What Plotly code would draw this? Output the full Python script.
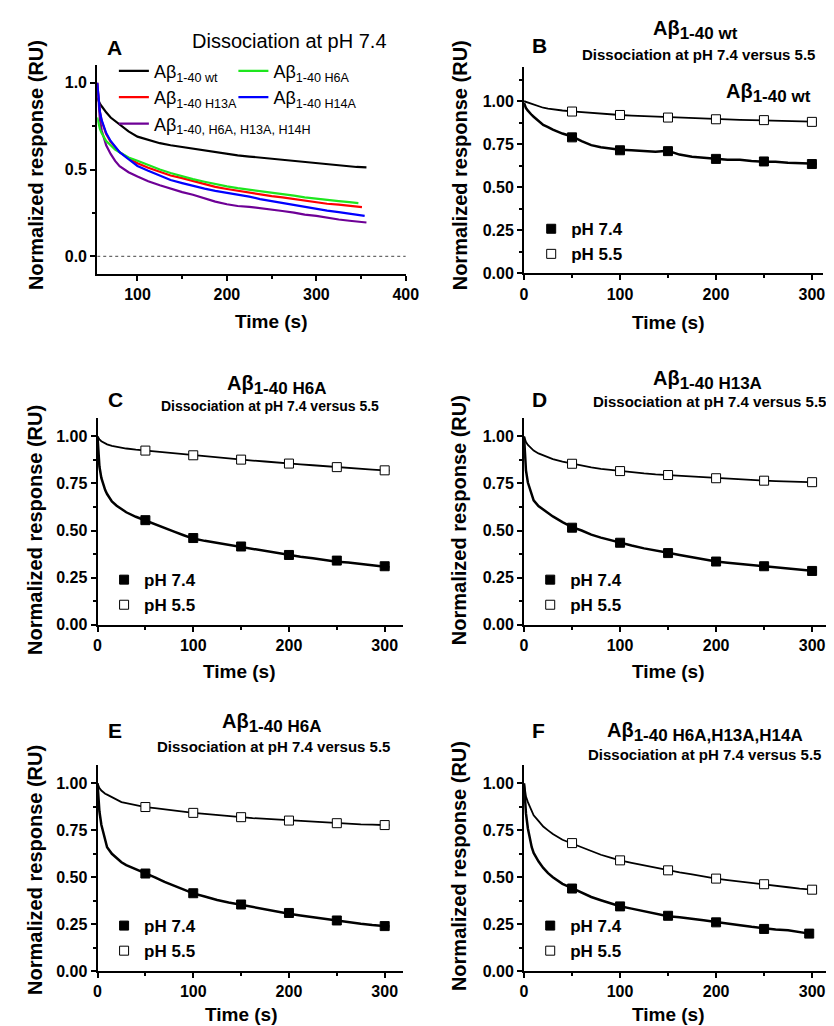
import plotly.graph_objects as go

# ---------------- data ----------------
# Panel A: dissociation at pH 7.4, all peptides
time_a = [55, 56, 57, 58, 60, 62, 65, 70, 75, 80, 90, 100, 112, 125, 137, 150, 162,
          175, 187, 200, 212, 225, 237, 250, 262, 275, 287, 300, 312, 325, 337, 345]
a_wt = [0.915, 0.90, 0.89, 0.88, 0.865, 0.85, 0.83, 0.80, 0.78, 0.763, 0.72, 0.69, 0.67,
        0.652, 0.64, 0.63, 0.618, 0.608, 0.598, 0.589, 0.582, 0.575, 0.569, 0.564, 0.558,
        0.551, 0.543, 0.536, 0.53, 0.523, 0.518, 0.515]
a_h6a = [0.80, 0.77, 0.75, 0.735, 0.71, 0.69, 0.665, 0.64, 0.615, 0.60, 0.57, 0.551, 0.525,
         0.50, 0.48, 0.46, 0.445, 0.43, 0.415, 0.403, 0.393, 0.385, 0.375, 0.366, 0.358,
         0.35, 0.34, 0.331, 0.325, 0.318, 0.312, 0.309]
a_h13a = [1.0, 0.93, 0.87, 0.83, 0.78, 0.745, 0.705, 0.66, 0.63, 0.60, 0.565, 0.536, 0.51,
          0.485, 0.466, 0.451, 0.434, 0.416, 0.40, 0.388, 0.378, 0.368, 0.356, 0.347, 0.34,
          0.33, 0.32, 0.309, 0.303, 0.298, 0.29, 0.286]
a_h14a = [1.0, 0.93, 0.875, 0.835, 0.785, 0.75, 0.71, 0.665, 0.632, 0.60, 0.56, 0.521, 0.493,
          0.465, 0.44, 0.422, 0.405, 0.39, 0.377, 0.366, 0.355, 0.344, 0.33, 0.318, 0.308,
          0.298, 0.285, 0.271, 0.263, 0.255, 0.245, 0.24]
a_triple = [1.0, 0.91, 0.84, 0.79, 0.725, 0.685, 0.64, 0.59, 0.55, 0.52, 0.485, 0.46, 0.433,
            0.41, 0.39, 0.37, 0.355, 0.335, 0.315, 0.30, 0.29, 0.285, 0.276, 0.268, 0.261,
            0.252, 0.24, 0.233, 0.222, 0.212, 0.205, 0.20]
a_end_time = {'wt': 356, 'h6a': 347, 'h13a': 351, 'h14a': 354, 'triple': 356}
a_end_value = {'wt': 0.513, 'h6a': 0.307, 'h13a': 0.284, 'h14a': 0.233, 'triple': 0.195}

# Panels B-F: pH 7.4 versus pH 5.5
time_bf = [0, 1, 2, 4, 6, 8, 10, 15, 20, 25, 30, 40, 50, 60, 70, 80, 90, 100, 112, 125,
           137, 150, 162, 175, 187, 200, 212, 225, 237, 250, 262, 275, 287, 300, 305]
b_74 = [0.99, 0.975, 0.96, 0.945, 0.93, 0.92, 0.91, 0.885, 0.862, 0.85, 0.835, 0.812, 0.795,
        0.768, 0.745, 0.732, 0.725, 0.718, 0.715, 0.712, 0.706, 0.712, 0.69, 0.678, 0.672,
        0.665, 0.66, 0.66, 0.652, 0.648, 0.648, 0.643, 0.64, 0.637, 0.636]
b_55 = [1.0, 0.998, 0.995, 0.99, 0.986, 0.982, 0.978, 0.97, 0.962, 0.957, 0.952, 0.946,
        0.941, 0.936, 0.931, 0.927, 0.923, 0.92, 0.916, 0.913, 0.91, 0.906, 0.903, 0.90,
        0.898, 0.896, 0.894, 0.892, 0.89, 0.889, 0.887, 0.885, 0.883, 0.881, 0.88]
c_74 = [1.0, 0.90, 0.84, 0.78, 0.745, 0.715, 0.694, 0.655, 0.632, 0.612, 0.597, 0.573, 0.553,
        0.533, 0.51, 0.494, 0.475, 0.457, 0.445, 0.434, 0.424, 0.413, 0.403, 0.392, 0.38,
        0.37, 0.36, 0.352, 0.343, 0.334, 0.33, 0.322, 0.313, 0.308, 0.305]
c_55 = [1.0, 0.99, 0.985, 0.975, 0.968, 0.962, 0.958, 0.95, 0.944, 0.94, 0.936, 0.93, 0.925,
        0.92, 0.915, 0.91, 0.905, 0.90, 0.895, 0.89, 0.884, 0.877, 0.872, 0.867, 0.861,
        0.856, 0.852, 0.847, 0.842, 0.837, 0.833, 0.829, 0.824, 0.82, 0.818]
d_74 = [1.0, 0.88, 0.82, 0.755, 0.72, 0.69, 0.66, 0.63, 0.61, 0.592, 0.575, 0.545, 0.518,
        0.50, 0.478, 0.462, 0.448, 0.436, 0.42, 0.405, 0.395, 0.382, 0.37, 0.357, 0.347,
        0.335, 0.328, 0.322, 0.315, 0.308, 0.303, 0.298, 0.292, 0.285, 0.283]
d_55 = [1.0, 0.98, 0.97, 0.955, 0.945, 0.935, 0.925, 0.91, 0.90, 0.89, 0.88, 0.866, 0.855,
        0.845, 0.836, 0.828, 0.822, 0.816, 0.81, 0.804, 0.799, 0.795, 0.79, 0.786, 0.782,
        0.778, 0.775, 0.771, 0.768, 0.765, 0.763, 0.76, 0.758, 0.757, 0.756]
e_74 = [1.0, 0.90, 0.85, 0.78, 0.74, 0.695, 0.66, 0.625, 0.60, 0.58, 0.565, 0.543, 0.524,
        0.50, 0.475, 0.455, 0.433, 0.414, 0.398, 0.379, 0.366, 0.353, 0.34, 0.327, 0.316,
        0.306, 0.297, 0.288, 0.277, 0.267, 0.26, 0.253, 0.246, 0.24, 0.238]
e_55 = [1.0, 0.985, 0.975, 0.962, 0.952, 0.945, 0.94, 0.926, 0.912, 0.90, 0.895, 0.884, 0.874,
        0.868, 0.861, 0.854, 0.848, 0.843, 0.838, 0.831, 0.825, 0.82, 0.815, 0.811, 0.806,
        0.802, 0.798, 0.795, 0.791, 0.788, 0.785, 0.782, 0.78, 0.778, 0.777]
time_f74 = [0, 1, 2, 4, 6, 8, 10, 15, 20, 25, 30, 40, 50, 60, 70, 80, 90, 100, 112, 125,
            137, 150, 162, 175, 187, 200, 212, 225, 237, 250, 262, 275, 287, 297]
f_74 = [1.0, 0.90, 0.84, 0.76, 0.70, 0.66, 0.63, 0.585, 0.55, 0.522, 0.50, 0.465, 0.442,
        0.42, 0.395, 0.378, 0.36, 0.346, 0.333, 0.32, 0.306, 0.293, 0.287, 0.28, 0.271,
        0.262, 0.255, 0.245, 0.236, 0.227, 0.222, 0.218, 0.208, 0.20]
time_f55 = time_f74[:-1] + [300]
f_55 = [1.0, 0.96, 0.93, 0.90, 0.875, 0.85, 0.83, 0.80, 0.77, 0.75, 0.73, 0.70, 0.682, 0.66,
        0.64, 0.62, 0.605, 0.59, 0.577, 0.563, 0.55, 0.537, 0.526, 0.515, 0.503, 0.493,
        0.485, 0.478, 0.47, 0.463, 0.455, 0.447, 0.44, 0.434]

# symbols every 50 s
mark_t = [50, 100, 150, 200, 250, 300]
mark_t_f74 = [50, 100, 150, 200, 250, 297]
mark_b74 = [0.79, 0.715, 0.71, 0.665, 0.65, 0.635]
mark_b55 = [0.94, 0.92, 0.905, 0.895, 0.89, 0.88]
mark_c74 = [0.555, 0.46, 0.415, 0.37, 0.34, 0.31]
mark_c55 = [0.925, 0.90, 0.877, 0.856, 0.837, 0.82]
mark_d74 = [0.515, 0.435, 0.38, 0.335, 0.31, 0.285]
mark_d55 = [0.855, 0.816, 0.795, 0.778, 0.765, 0.757]
mark_e74 = [0.52, 0.415, 0.355, 0.31, 0.27, 0.24]
mark_e55 = [0.874, 0.843, 0.82, 0.802, 0.788, 0.778]
mark_f74 = [0.44, 0.345, 0.295, 0.26, 0.225, 0.20]
mark_f55 = [0.682, 0.59, 0.537, 0.493, 0.463, 0.434]

a_names = {'wt': 'Aβ<sub>1-40 wt</sub>', 'h6a': 'Aβ<sub>1-40 H6A</sub>',
           'h13a': 'Aβ<sub>1-40 H13A</sub>', 'h14a': 'Aβ<sub>1-40 H14A</sub>',
           'triple': 'Aβ<sub>1-40, H6A, H13A, H14H</sub>'}
a_colors = {'wt': 'black', 'h6a': 'rgb(30,230,30)', 'h13a': 'rgb(255,0,0)',
            'h14a': 'rgb(0,0,255)', 'triple': 'rgb(110,0,150)'}
a_series = {'wt': a_wt, 'h6a': a_h6a, 'h13a': a_h13a, 'h14a': a_h14a, 'triple': a_triple}

W, H = 834, 1026
FONT = 'Liberation Sans, Arial, sans-serif'

def px(x):
    return x / W

def py(y):
    return 1 - y / H

fig = go.Figure()

#%% Panel A
fig.add_shape(type='line', xref='x', yref='y', x0=55, x1=400, y0=0, y1=0,
              line=dict(color='#444', width=1, dash='dot'))
legend_of = {'wt': 'legend', 'h13a': 'legend', 'triple': 'legend',
             'h6a': 'legend7', 'h14a': 'legend7'}
for key in ['wt', 'h13a', 'triple', 'h6a', 'h14a']:
    fig.add_trace(go.Scatter(
        x=time_a + [a_end_time[key]], y=a_series[key] + [a_end_value[key]],
        mode='lines', line=dict(color=a_colors[key], width=2.2),
        name=a_names[key], legend=legend_of[key], legendgroup=key,
        xaxis='x', yaxis='y'))

#%% Panels B-F
panels = [
    ('x2', 'y2', 'legend2', time_bf, b_74, time_bf, b_55, mark_t, mark_b74, mark_b55),
    ('x3', 'y3', 'legend3', time_bf, c_74, time_bf, c_55, mark_t, mark_c74, mark_c55),
    ('x4', 'y4', 'legend4', time_bf, d_74, time_bf, d_55, mark_t, mark_d74, mark_d55),
    ('x5', 'y5', 'legend5', time_bf, e_74, time_bf, e_55, mark_t, mark_e74, mark_e55),
    ('x6', 'y6', 'legend6', time_f74, f_74, time_f55, f_55, mark_t_f74, mark_f74, mark_f55),
]
for xa, ya, lg, t74, v74, t55, v55, mt74, m74, m55 in panels:
    fig.add_trace(go.Scatter(x=t55, y=v55, mode='lines', line=dict(color='black', width=1.8),
                             showlegend=False, xaxis=xa, yaxis=ya))
    fig.add_trace(go.Scatter(x=t74, y=v74, mode='lines', line=dict(color='black', width=2.5),
                             showlegend=False, xaxis=xa, yaxis=ya))
    fig.add_trace(go.Scatter(x=mt74, y=m74, mode='markers', name='pH 7.4', legend=lg,
                             marker=dict(symbol='square', size=9, color='black',
                                         line=dict(color='black', width=1)),
                             xaxis=xa, yaxis=ya, legendgroup='a' + lg))
    fig.add_trace(go.Scatter(x=mark_t, y=m55, mode='markers', name='pH 5.5', legend=lg,
                             marker=dict(symbol='square', size=9, color='white',
                                         line=dict(color='black', width=1)),
                             xaxis=xa, yaxis=ya, legendgroup='b' + lg))

# axis geometry in pixels: (left, right, top, bottom)
geo = {
    1: (87, 402, 58, 268),
    2: (522.7, 828.3, 59.3, 267.7),
    3: (87.3, 399.3, 413.3, 622),
    4: (522.7, 834, 413.3, 622),
    5: (87.3, 399.3, 763.3, 971.7),
    6: (522.7, 834, 763.3, 971.7),
}
xranges = {1: [55, 400], 2: [0, 312], 3: [0, 319.3], 4: [0, 317.6], 5: [0, 319.3], 6: [0, 317.6]}
yranges = {1: [-0.1, 1.1], 2: [0, 1.2], 3: [0, 1.1], 4: [0, 1.1], 5: [0, 1.1], 6: [0, 1.1]}

tickfont = dict(family=FONT, size=16, color='black', weight='bold')

layout = {}
for i in range(1, 7):
    l, r, t, b = geo[i]
    sfx = '' if i == 1 else str(i)
    layout['xaxis' + sfx] = dict(
        domain=[px(l), px(r)], range=xranges[i], anchor='y' + sfx,
        showline=True, linecolor='black', linewidth=2, ticks='outside', ticklen=5,
        tickwidth=2, tickcolor='black', dtick=100, tick0=0, showgrid=False, zeroline=False,
        minor=dict(ticks='outside', ticklen=3, tickwidth=1.5, tickcolor='black', dtick=50),
        tickfont=tickfont)
    layout['yaxis' + sfx] = dict(
        domain=[py(b), py(t)], range=yranges[i], anchor='x' + sfx,
        showline=True, linecolor='black', linewidth=2, ticks='outside', ticklen=5,
        tickwidth=2, tickcolor='black', dtick=0.5 if i == 1 else 0.25, tick0=0,
        tickformat='.1f' if i == 1 else '.2f', showgrid=False, zeroline=False,
        minor=dict(ticks='outside', ticklen=3, tickwidth=1.5, tickcolor='black',
                   dtick=0.25 if i == 1 else 0.125),
        tickfont=tickfont)

# legends
legfont = dict(family=FONT, size=17, color='black', weight='bold')
leg_pos = {2: (530, 205), 3: (94, 559), 4: (529, 559), 5: (94, 908), 6: (529, 908)}
for i, (lx, ly) in leg_pos.items():
    layout['legend%d' % i] = dict(x=px(lx), y=py(ly), xanchor='left', yanchor='top',
                                  bgcolor='rgba(0,0,0,0)', font=legfont, tracegroupgap=0,
                                  itemwidth=30)
afont = dict(family=FONT, size=18, color='black')
layout['legend'] = dict(x=px(104), y=py(45), xanchor='left', yanchor='top',
                        bgcolor='rgba(0,0,0,0)', font=afont, tracegroupgap=0, itemwidth=30)
layout['legend7'] = dict(x=px(226), y=py(45), xanchor='left', yanchor='top',
                         bgcolor='rgba(0,0,0,0)', font=afont, tracegroupgap=0, itemwidth=30)

annotations = []

def note(text, x, y, size, bold=True, angle=0):
    annotations.append(dict(text=text, x=px(x), y=py(y), xref='paper', yref='paper',
                            showarrow=False, xanchor='center', yanchor='middle',
                            textangle=angle,
                            font=dict(family=FONT, size=size, color='black',
                                      weight='bold' if bold else 'normal')))

def sub_title(s):
    return 'Aβ<sub><span style="font-size:17px">%s</span></sub>' % s

# panel letters
for txt, x, y in [('A', 105, 40), ('B', 538, 38), ('C', 106, 395),
                  ('D', 538, 395), ('E', 105, 729), ('F', 537, 729)]:
    note(txt, x, y, 21)

# axis titles
for x, y in [(265, 316), (670, 317), (232, 669), (670, 669), (234, 1015), (670, 1015)]:
    note('Time (s)', x, y, 19)
for x, y in [(24, 159), (457, 159), (24, 527), (457, 517), (24, 870), (457, 866)]:
    note('Normalized response (RU)', x, y, 20, angle=-90)

note('Dissociation at pH 7.4', 283, 33, 20, bold=False)
titles = [
    ('1-40 wt', 698, 22, 701, 47, 15),
    ('1-40 H6A', 270, 380, 263, 402, 14),
    ('1-40 H13A', 710, 375, 712, 397, 15),
    ('1-40 H6A', 265, 721, 267, 745, 15),
    ('1-40 H6A,H13A,H14A', 707, 730, 707, 753, 15),
]
for s, tx, ty, sx, sy, ss in titles:
    note(sub_title(s), tx, ty, 20)
    note('Dissociation at pH 7.4 versus 5.5', sx, sy, ss)
note(sub_title('1-40 wt'), 772, 86, 20)

fig.update_layout(width=W, height=H, margin=dict(l=0, r=0, t=0, b=0),
                  paper_bgcolor='white', plot_bgcolor='white',
                  font=dict(family=FONT, color='black'),
                  annotations=annotations, **layout)
fig.write_html('out.html')
